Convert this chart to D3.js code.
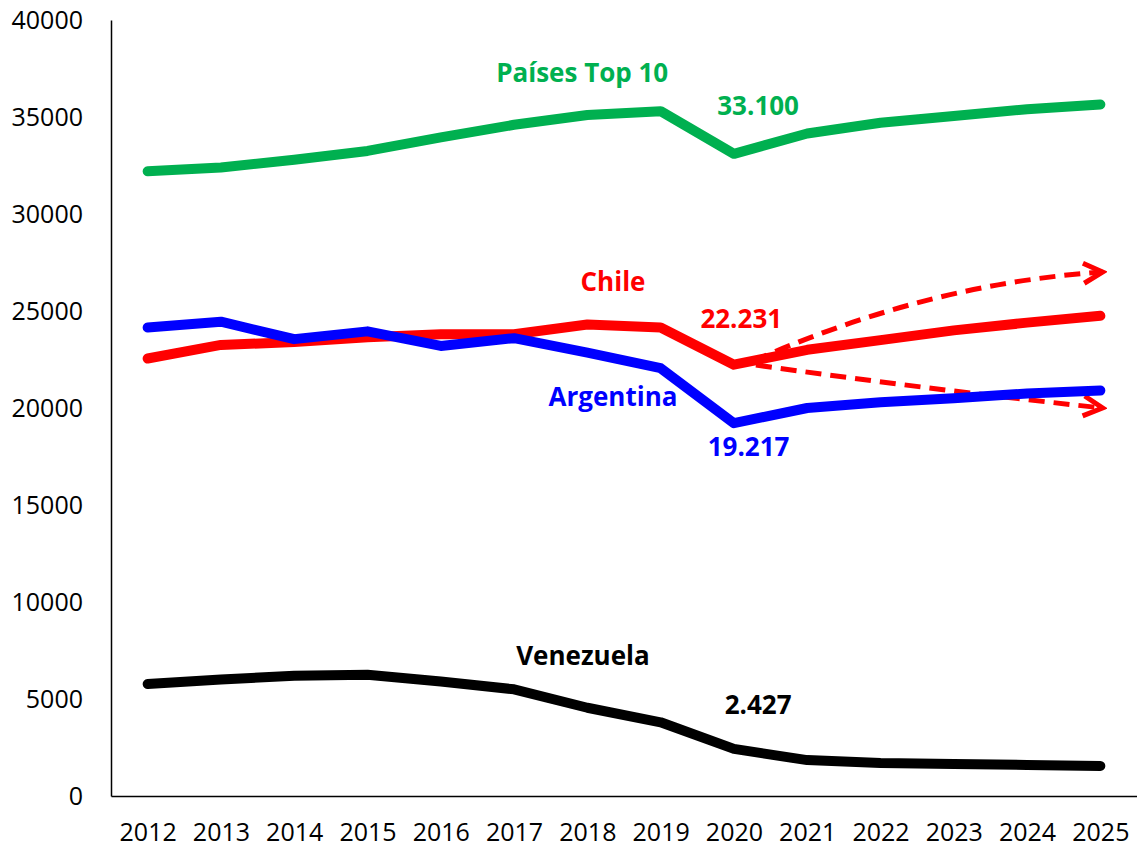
<!DOCTYPE html>
<html lang="es">
<head>
  <meta charset="UTF-8">
  <title>chart</title>
  <style>
    body {
      margin: 0;
      background: #fff;
    }

    .axis text {
      font-family: 'Open Sans', sans-serif;
      font-size: 25px;
      fill: #000;
    }

    .axis path {
      stroke: #000;
      stroke-width: 1.5px;
    }

    .series {
      fill: none;
      stroke-width: 10px;
      stroke-linecap: round;
      stroke-linejoin: round;
    }

    .label {
      font-family: 'Open Sans', sans-serif;
      font-size: 26px;
      font-weight: 700;
      text-anchor: middle;
      dominant-baseline: central;
    }

    .trend {
      fill: none;
      stroke: #ff0000;
      stroke-width: 5px;
      stroke-dasharray: 16,9;
    }
  </style>
</head>
<body>
  <script src="https://d3js.org/d3.v7.min.js"></script>
  <script>
    var years = [2012, 2013, 2014, 2015, 2016, 2017, 2018, 2019, 2020, 2021, 2022, 2023, 2024, 2025];
    var yTicks = [0, 5000, 10000, 15000, 20000, 25000, 30000, 35000, 40000];

    var top10 = [32200, 32400, 32800, 33250, 33950, 34600, 35100, 35300, 33100, 34150, 34700, 35050, 35400, 35650];
    var chile = [22550, 23250, 23400, 23650, 23800, 23800, 24300, 24150, 22231, 23000, 23500, 24000, 24400, 24750];
    var argentina = [24150, 24450, 23550, 23950, 23200, 23600, 22850, 22050, 19217, 20000, 20300, 20500, 20750, 20900];
    var venezuela = [5770, 6000, 6200, 6250, 5900, 5500, 4550, 3800, 2427, 1850, 1700, 1650, 1600, 1550];

    // text annotations, anchored in data units (year, value)
    var labels = [
      { text: 'Países Top 10', year: 2017.93, value: 37320, color: '#00b050' },
      { text: '33.100', year: 2020.33, value: 35620, color: '#00b050' },
      { text: 'Chile', year: 2018.35, value: 26546, color: '#ff0000' },
      { text: '22.231', year: 2020.1, value: 24640, color: '#ff0000' },
      { text: 'Argentina', year: 2018.35, value: 20618, color: '#0000ff' },
      { text: '19.217', year: 2020.2, value: 18041, color: '#0000ff' },
      { text: 'Venezuela', year: 2017.94, value: 7268, color: '#000' },
      { text: '2.427', year: 2020.33, value: 4742, color: '#000' }
    ];

    // dashed projection arrows for Chile
    var trends = [
      { from: [2020.25, 22400], to: [2025.03, 27010], bend: 1700 },
      { from: [2020.3, 22216], to: [2025.03, 20000], bend: -150 }
    ];

    var width = 1137, height = 850;

    var svg = d3.select('body').append('svg')
      .attr('width', width)
      .attr('height', height);

    var x = d3.scaleLinear()
      .domain([2011.5, 2025.5])
      .range([111, 1137]);

    var y = d3.scaleLinear()
      .domain([0, 40000])
      .range([796, 20]);

    svg.append('defs').append('marker')
      .attr('id', 'head')
      .attr('markerUnits', 'userSpaceOnUse')
      .attr('viewBox', '-24 -14 28 28')
      .attr('markerWidth', 28)
      .attr('markerHeight', 28)
      .attr('refX', 0)
      .attr('refY', 0)
      .attr('orient', 'auto')
      .append('path')
      .attr('d', 'M-19,-10 L0,0 L-19,10')
      .attr('fill', 'none')
      .attr('stroke', '#ff0000')
      .attr('stroke-width', 5);

    svg.append('g')
      .attr('class', 'axis')
      .attr('transform', 'translate(111,0)')
      .call(d3.axisLeft(y).tickValues(yTicks).tickSize(0).tickSizeOuter(0).tickPadding(28).tickFormat(d3.format('d')));

    svg.append('g')
      .attr('class', 'axis')
      .attr('transform', 'translate(0,796)')
      .call(d3.axisBottom(x).tickValues(years).tickSize(0).tickSizeOuter(0).tickPadding(27).tickFormat(d3.format('d')));

    var line = d3.line()
      .x(function(d, i) { return x(years[i]); })
      .y(function(d) { return y(d); });

    function drawSeries(values, color) {
      svg.append('path')
        .datum(values)
        .attr('class', 'series')
        .attr('stroke', color)
        .attr('d', line);
    }

    drawSeries(top10, '#00b050');
    drawSeries(venezuela, '#000');
    drawSeries(chile, '#ff0000');

    svg.selectAll('.trend')
      .data(trends)
      .enter().append('path')
      .attr('class', 'trend')
      .attr('marker-end', 'url(#head)')
      .attr('d', function(d) {
        var p = d3.path();
        var cx = (d.from[0] + d.to[0]) / 2;
        var cy = (d.from[1] + d.to[1]) / 2 + d.bend;
        p.moveTo(x(d.from[0]), y(d.from[1]));
        p.quadraticCurveTo(x(cx), y(cy), x(d.to[0]), y(d.to[1]));
        return p.toString();
      });

    drawSeries(argentina, '#0000ff');

    svg.selectAll('.label')
      .data(labels)
      .enter().append('text')
      .attr('class', 'label')
      .attr('x', function(d) { return x(d.year); })
      .attr('y', function(d) { return y(d.value); })
      .attr('fill', function(d) { return d.color; })
      .text(function(d) { return d.text; });
  </script>
</body>
</html>
